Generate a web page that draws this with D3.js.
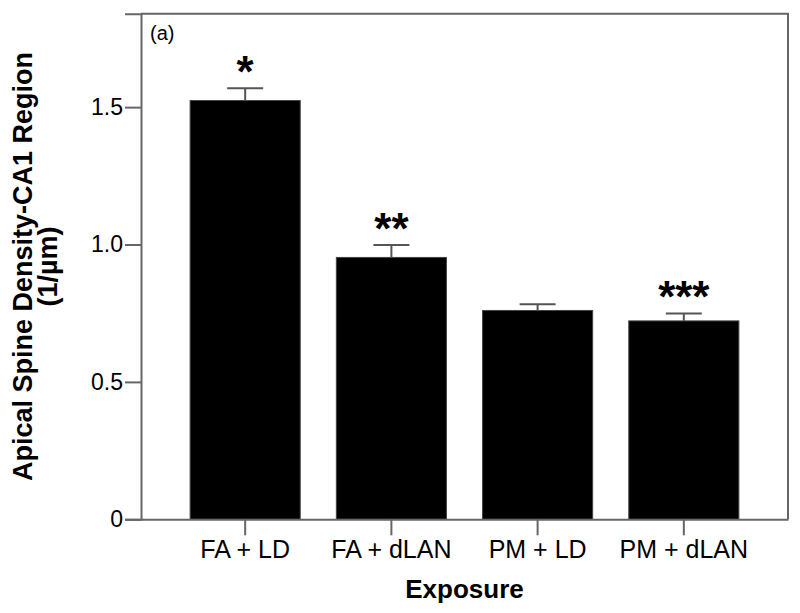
<!DOCTYPE html>
<html>
<head>
<meta charset="utf-8">
<script src="https://cdn.jsdelivr.net/npm/d3@7"></script>
<style>
  html, body { margin: 0; padding: 0; background: #fff; }
  svg { display: block; font-family: Arial, "Liberation Sans", sans-serif; }
</style>
</head>
<body>
<svg id="chart" width="800" height="613"></svg>
<script>
// ---- data ----
const categories = ["FA + LD", "FA + dLAN", "PM + LD", "PM + dLAN"];
const means = [1.524, 0.953, 0.760, 0.722];
const errors = [0.045, 0.045, 0.023, 0.027];
const stars = ["*", "**", "", "***"];
const yTickValues = [0, 0.5, 1.0, 1.5];
const yTickLabels = ["0", "0.5", "1.0", "1.5"];

// ---- layout ----
const plotLeft = 141, plotRight = 788, plotTop = 13.7, plotBottom = 519.3;
const axisColor = "#666";

const svg = d3.select("#chart");

const x = d3.scaleBand()
  .domain(categories)
  .range([plotLeft, plotRight])
  .paddingInner(0.247)
  .paddingOuter(0.336);

const y = d3.scaleLinear()
  .domain([0, 1.84])
  .range([plotBottom, plotTop]);

// frame (top & right)
svg.append("path")
  .attr("d", `M${plotLeft},${plotTop}H${plotRight}V${plotBottom}`)
  .attr("fill", "none")
  .attr("stroke", axisColor)
  .attr("stroke-width", 2);

// bars
svg.append("g").selectAll("rect")
  .data(categories)
  .join("rect")
  .attr("x", d => x(d))
  .attr("width", x.bandwidth())
  .attr("y", (d, i) => y(means[i]))
  .attr("height", (d, i) => y(0) - y(means[i]))
  .attr("fill", "#000")
  .attr("stroke", "#444")
  .attr("stroke-width", 1);

// error bars
const eg = svg.append("g").attr("stroke", "#555").attr("stroke-width", 2).attr("fill", "none");
categories.forEach((c, i) => {
  const cx = x(c) + x.bandwidth() / 2;
  eg.append("line")
    .attr("x1", cx).attr("x2", cx)
    .attr("y1", y(means[i])).attr("y2", y(means[i] + errors[i]));
  eg.append("line")
    .attr("x1", cx - 18).attr("x2", cx + 18)
    .attr("y1", y(means[i] + errors[i])).attr("y2", y(means[i] + errors[i]));
});

// significance stars
svg.append("g").selectAll("text")
  .data(categories)
  .join("text")
  .attr("x", d => x(d) + x.bandwidth() / 2)
  .attr("y", (d, i) => y(means[i] + errors[i]) - 1)
  .attr("text-anchor", "middle")
  .attr("font-size", 44)
  .attr("font-weight", "bold")
  .attr("fill", "#000")
  .text((d, i) => stars[i]);

// y axis
const yAxis = d3.axisLeft(y)
  .tickValues(yTickValues)
  .tickFormat((d, i) => yTickLabels[i])
  .tickSize(16)
  .tickPadding(2);
const yg = svg.append("g").attr("transform", `translate(${plotLeft},0)`).call(yAxis);
yg.select(".domain").attr("stroke", axisColor).attr("stroke-width", 2);
yg.selectAll(".tick line").attr("stroke", axisColor).attr("stroke-width", 2);
yg.selectAll(".tick text").attr("font-size", 23).attr("fill", "#000")
  .attr("font-family", "Arial, 'Liberation Sans', sans-serif");

// x axis
const xAxis = d3.axisBottom(x).tickSize(16).tickPadding(5).tickSizeOuter(0);
const xg = svg.append("g").attr("transform", `translate(0,${plotBottom})`).call(xAxis);
xg.select(".domain").attr("stroke", axisColor).attr("stroke-width", 2);
xg.selectAll(".tick line").attr("stroke", axisColor).attr("stroke-width", 2);
xg.selectAll(".tick text").attr("font-size", 25).attr("fill", "#000")
  .attr("font-family", "Arial, 'Liberation Sans', sans-serif");

// panel label
svg.append("text")
  .attr("x", 150).attr("y", 40)
  .attr("font-size", 20)
  .attr("fill", "#000")
  .text("(a)");

// x title
svg.append("text")
  .attr("x", (plotLeft + plotRight) / 2).attr("y", 598)
  .attr("text-anchor", "middle")
  .attr("font-size", 26)
  .attr("font-weight", "bold")
  .text("Exposure");

// y title (two lines)
const cy = (plotTop + plotBottom) / 2;
svg.append("text")
  .attr("transform", `translate(32,${cy}) rotate(-90)`)
  .attr("text-anchor", "middle")
  .attr("font-size", 27)
  .attr("font-weight", "bold")
  .text("Apical Spine Density-CA1 Region");
svg.append("text")
  .attr("transform", `translate(57,${cy}) rotate(-90)`)
  .attr("text-anchor", "middle")
  .attr("font-size", 27)
  .attr("font-weight", "bold")
  .text("(1/\u00B5m)");
</script>
</body>
</html>
